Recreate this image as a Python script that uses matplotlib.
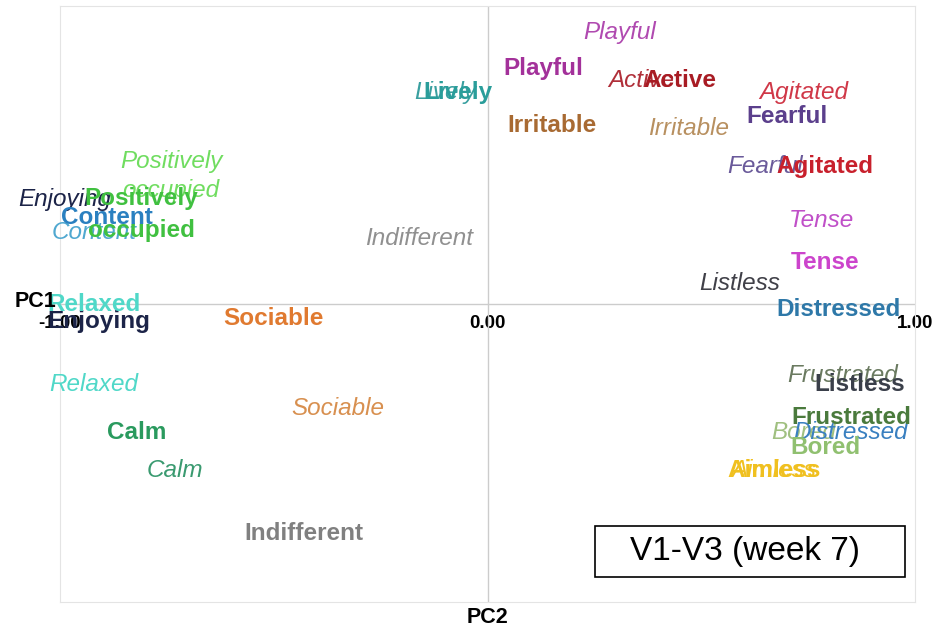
import matplotlib.pyplot as plt
from matplotlib.patches import Rectangle

plt.rcParams['font.family'] = ['Liberation Sans', 'DejaVu Sans']

# labels shown in bold (first set) and in italic (second set)
bold_labels = ['Playful', 'Lively', 'Active', 'Irritable', 'Fearful', 'Agitated', 'Tense',
               'Distressed', 'Listless', 'Frustrated', 'Bored', 'Aimless', 'Indifferent',
               'Calm', 'Sociable', 'Enjoying', 'Relaxed', 'Positively\noccupied', 'Content']
bold_x = [0.13, -0.07, 0.45, 0.15, 0.70, 0.79, 0.79, 0.82, 0.87, 0.85, 0.79, 0.67, -0.43,
          -0.82, -0.50, -0.91, -0.92, -0.81, -0.89]
bold_y = [0.79, 0.71, 0.75, 0.60, 0.63, 0.46, 0.14, -0.02, -0.27, -0.38, -0.48, -0.56, -0.77,
          -0.43, -0.05, -0.06, 0.00, 0.30, 0.29]
bold_colors = ['#A3319A', '#2A9D9A', '#A81C24', '#A86A32', '#5B3F8C', '#C8202C', '#CC44CC',
               '#2E78A8', '#3A3F4A', '#4A7A3C', '#90C070', '#F0C020', '#808080',
               '#2A9A5E', '#E07A30', '#1C2448', '#50D8C8', '#40C040', '#2A80C0']

italic_labels = ['Playful', 'Lively', 'Active', 'Irritable', 'Fearful', 'Agitated', 'Tense',
                 'Listless', 'Frustrated', 'Bored', 'Distressed', 'Aimless', 'Indifferent',
                 'Calm', 'Sociable', 'Enjoying', 'Relaxed', 'Positively\noccupied', 'Content']
italic_x = [0.31, -0.10, 0.36, 0.47, 0.65, 0.74, 0.78, 0.59, 0.83, 0.74, 0.85, 0.67, -0.16,
            -0.73, -0.35, -0.99, -0.92, -0.74, -0.92]
italic_y = [0.91, 0.71, 0.75, 0.59, 0.46, 0.71, 0.28, 0.07, -0.24, -0.43, -0.43, -0.56, 0.22,
            -0.56, -0.35, 0.35, -0.27, 0.43, 0.24]
italic_colors = ['#B04AB0', '#3AA0A0', '#B0303A', '#B89060', '#6A5A9A', '#D03848', '#C050C8',
                 '#404048', '#6A7A60', '#A0C080', '#3A80C0', '#F0C020', '#909090',
                 '#3A9A70', '#D89050', '#1C2448', '#50D8C8', '#70DD60', '#50A8D0']

tick_values = [-1.0, 0.0, 1.0]
tick_labels = ['-1.00', '0.00', '1.00']

fig = plt.figure(figsize=(9.35, 6.3), dpi=100)
ax = fig.add_axes([0.0642, 0.0444, 0.9144, 0.946])
ax.set_xlim(-1, 1)
ax.set_ylim(-1, 1)
ax.set_xticks([])
ax.set_yticks([])
for s in ax.spines.values():
    s.set_color('#E4E4E4')
ax.axhline(0, color='#CCCCCC', lw=1)
ax.axvline(0, color='#CCCCCC', lw=1)

for lab, x, y, c in zip(italic_labels, italic_x, italic_y, italic_colors):
    ax.text(x, y, lab, color=c, fontsize=17.5, style='italic', ha='center', va='center',
            linespacing=1.3)
for lab, x, y, c in zip(bold_labels, bold_x, bold_y, bold_colors):
    ax.text(x, y, lab, color=c, fontsize=17.5, fontweight='bold', ha='center', va='center',
            linespacing=1.5)

for v, t in zip(tick_values, tick_labels):
    ax.text(v, -0.065, t, fontsize=13.5, fontweight='bold', ha='center', va='center', zorder=1)

ax.text(-1.058, 0.01, 'PC1', fontsize=15.5, fontweight='bold', ha='center', va='center')
ax.text(0.0, -1.052, 'PC2', fontsize=15.5, fontweight='bold', ha='center', va='center')

ax.add_patch(Rectangle((0.626, 0.042), 0.3626, 0.0857, transform=ax.transAxes,
                       facecolor='white', edgecolor='black', lw=1.2, zorder=5))
ax.text(0.801, 0.084, 'V1-V3 (week 7)', transform=ax.transAxes, fontsize=24,
        ha='center', va='center', zorder=6)

fig.savefig('out.png', dpi=100)
